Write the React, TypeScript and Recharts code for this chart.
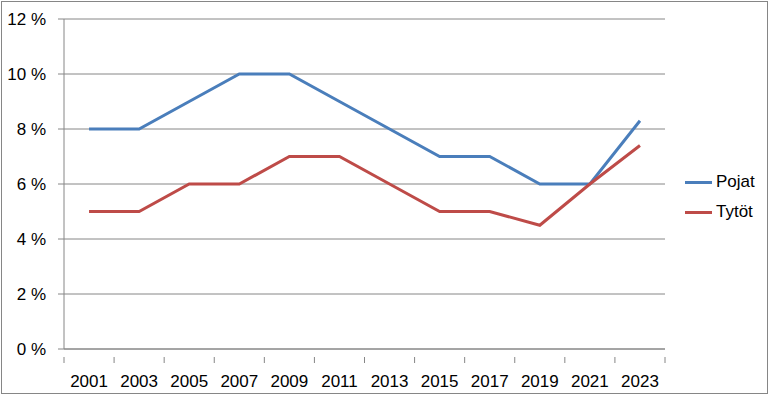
import { LineChart, Line, XAxis, YAxis, CartesianGrid } from 'recharts';

const years = ['2001', '2003', '2005', '2007', '2009', '2011', '2013', '2015', '2017', '2019', '2021', '2023'];
const pojat = [8, 8, 9, 10, 10, 9, 8, 7, 7, 6, 6, 8.3];
const tytot = [5, 5, 6, 6, 7, 7, 6, 5, 5, 4.5, 6, 7.4];
const yTicks = [0, 2, 4, 6, 8, 10, 12];

const data = years.map((year, i) => ({ year, Pojat: pojat[i], 'Tytöt': tytot[i] }));

const W = 769;
const H = 395;
const margin = { top: 19, right: 104, bottom: 0, left: 0 };
const yAxisWidth = 64;
const xAxisHeight = 46;
const plotWidth = W - margin.left - margin.right - yAxisWidth;
const band = plotWidth / years.length;
const axisGray = '#868686';
const font = '"Liberation Sans", Arial, sans-serif';

const XTick = (props: any) => {
  const { x, y, payload, index } = props;
  const left = x - band / 2;
  return (
    <g>
      <line x1={left} y1={y} x2={left} y2={y + 6} stroke={axisGray} />
      {index === years.length - 1 && (
        <line x1={x + band / 2} y1={y} x2={x + band / 2} y2={y + 6} stroke={axisGray} />
      )}
      <text x={x} y={y + 30} textAnchor="middle" fontSize={17} fontFamily={font} fill="#000">
        {payload.value}
      </text>
    </g>
  );
};

const legendItems = [
  { name: 'Pojat', color: '#4A7EBB' },
  { name: 'Tytöt', color: '#BE4B48' },
];

export default function App() {
  return (
    <div style={{ position: 'absolute', left: 0, top: 0, width: W, height: H, background: '#fff' }}>
      <div
        style={{
          position: 'absolute',
          left: 1,
          top: 1,
          width: W - 2,
          height: H - 2,
          border: `1px solid ${axisGray}`,
          boxSizing: 'border-box',
        }}
      />
      <LineChart width={W} height={H} data={data} margin={margin}>
        <CartesianGrid vertical={false} stroke={axisGray} strokeWidth={1} />
        <XAxis
          dataKey="year"
          scale="band"
          height={xAxisHeight}
          stroke={axisGray}
          tickLine={false}
          tick={<XTick />}
          interval={0}
        />
        <YAxis
          width={yAxisWidth}
          domain={[0, 12]}
          ticks={yTicks}
          stroke={axisGray}
          tickSize={6}
          tickMargin={12}
          tickFormatter={(v) => `${v} %`}
          tick={{ fontSize: 17, fontFamily: font, fill: '#000' }}
        />
        <Line
          type="linear"
          dataKey="Pojat"
          stroke="#4A7EBB"
          strokeWidth={3}
          dot={false}
          isAnimationActive={false}
        />
        <Line
          type="linear"
          dataKey="Tytöt"
          stroke="#BE4B48"
          strokeWidth={3}
          dot={false}
          isAnimationActive={false}
        />
      </LineChart>
      <div style={{ position: 'absolute', left: 685, top: 167, fontFamily: font, fontSize: 17, color: '#000' }}>
        {legendItems.map((item) => (
          <div key={item.name} style={{ display: 'flex', alignItems: 'center', height: 30 }}>
            <div style={{ width: 27, height: 3, background: item.color, marginRight: 4 }} />
            <span>{item.name}</span>
          </div>
        ))}
      </div>
    </div>
  );
}
